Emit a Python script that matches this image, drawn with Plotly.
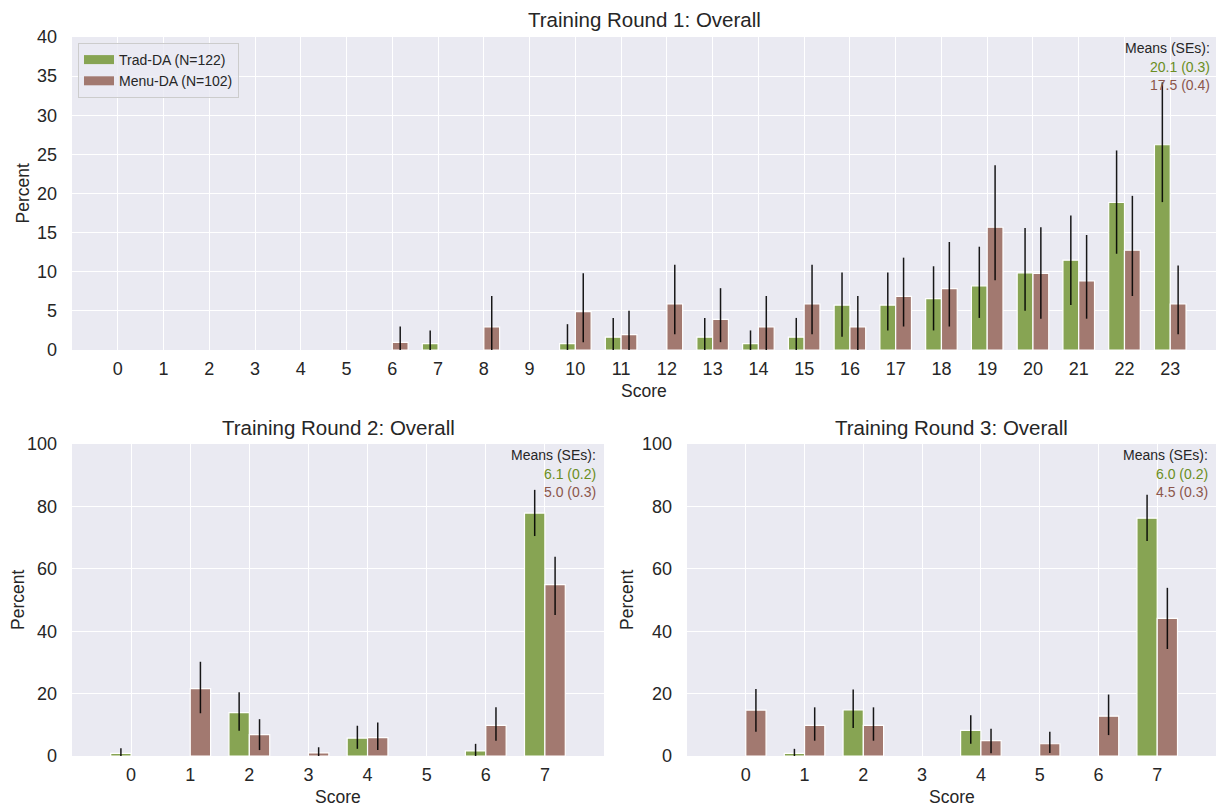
import plotly.graph_objects as go

# ---------------- data ----------------
scores1 = list(range(24))
trad1 = [0, 0, 0, 0, 0, 0, 0, 0.82, 0, 0, 0.82, 1.64, 0, 1.64, 0.82, 1.64,
         5.74, 5.74, 6.56, 8.20, 9.84, 11.48, 18.85, 26.23]
trad1_lo = [None]*7 + [0, None, None, 0, 0, None, 0, 0, 0, 1.7, 2.5, 2.5, 4.1, 5.0, 5.75, 12.3, 18.9]
trad1_hi = [None]*7 + [2.5, None, None, 3.3, 4.1, None, 4.1, 2.5, 4.1, 9.9, 9.9, 10.7, 13.2, 15.6, 17.2, 25.5, 34.2]
menu1 = [0, 0, 0, 0, 0, 0, 0.98, 0, 2.94, 0, 4.90, 1.96, 5.88, 3.92, 2.94, 5.88,
         2.94, 6.86, 7.84, 15.69, 9.80, 8.82, 12.75, 5.88]
menu1_lo = [None]*6 + [0, None, 0, None, 1.0, 0, 2.0, 1.0, 0, 2.0, 0, 3.0, 3.0, 8.9, 4.0, 4.0, 6.9, 2.0]
menu1_hi = [None]*6 + [3.0, None, 6.9, None, 9.8, 5.0, 10.9, 7.9, 6.9, 10.9, 6.9, 11.8, 13.8, 23.6, 15.7, 14.7, 19.7, 10.8]

scores23 = list(range(8))
trad2 = [0.82, 0, 13.93, 0, 5.74, 0, 1.64, 77.87]
trad2_lo = [0, None, 8.1, None, 2.3, None, 0, 70.5]
trad2_hi = [2.5, None, 20.4, None, 9.7, None, 3.9, 85.3]
menu2 = [0, 21.57, 6.86, 0.98, 5.88, 0, 9.80, 54.90]
menu2_lo = [None, 13.7, 1.9, 0, 1.9, None, 4.9, 45.2]
menu2_hi = [None, 30.2, 11.8, 2.8, 10.7, None, 15.6, 63.9]

trad3 = [0, 0.82, 14.75, 0, 8.20, 0, 0, 76.23]
trad3_lo = [None, 0, 9.0, None, 3.9, None, None, 68.9]
trad3_hi = [None, 2.3, 21.3, None, 13.1, None, None, 83.7]
menu3 = [14.71, 9.80, 9.80, 0, 4.90, 3.92, 12.75, 44.12]
menu3_lo = [7.8, 4.9, 4.9, None, 0.9, 1.0, 6.7, 34.3]
menu3_hi = [21.5, 15.6, 15.6, None, 8.7, 7.8, 19.7, 53.9]

titles = ["Training Round 1: Overall", "Training Round 2: Overall", "Training Round 3: Overall"]
means_trad = ["20.1 (0.3)", "6.1 (0.2)", "6.0 (0.2)"]
means_menu = ["17.5 (0.4)", "5.0 (0.3)", "4.5 (0.3)"]
names = ["Trad-DA (N=122)", "Menu-DA (N=102)"]

# ---------------- style ----------------
OFF = 8                      # page body margin of the browser
W, H = 1225 - OFF, 810 - OFF
FONT = "Liberation Sans, Arial, sans-serif"
TXT = "#262626"
BG = "#eaeaf2"
GREEN_FILL = "#87a453"
BROWN_FILL = "#a27970"
GREEN_TXT = "#6b8e23"
BROWN_TXT = "#8c564b"

def px_x(p):
    return (p - OFF) / W

def px_y(p):
    return 1 - (p - OFF) / H

panels = [
    dict(x0=72, x1=1216, y0=37, y1=350, xr=[-1, 24], yr=[0, 40], dy=5, ytx=22,
         scores=scores1, t=trad1, tl=trad1_lo, th=trad1_hi, m=menu1, ml=menu1_lo, mh=menu1_hi),
    dict(x0=72, x1=604, y0=444, y1=756, xr=[-1, 8], yr=[0, 100], dy=20, ytx=18,
         scores=scores23, t=trad2, tl=trad2_lo, th=trad2_hi, m=menu2, ml=menu2_lo, mh=menu2_hi),
    dict(x0=687, x1=1216, y0=444, y1=756, xr=[-1, 8], yr=[0, 100], dy=20, ytx=627,
         scores=scores23, t=trad3, tl=trad3_lo, th=trad3_hi, m=menu3, ml=menu3_lo, mh=menu3_hi),
]

fig = go.Figure()
annotations = []
layout_axes = {}

def make_trace(scores, vals, lo, hi, name, color, ax, og):
    xs, ys, ep, em = [], [], [], []
    for s, v, l, h in zip(scores, vals, lo, hi):
        if v and v > 0:
            xs.append(s)
            ys.append(v)
            ep.append((h - v) if h is not None else 0)
            em.append((v - l) if l is not None else 0)
    return go.Bar(
        x=xs, y=ys, name=name, xaxis="x" + ax, yaxis="y" + ax,
        marker=dict(color=color, line=dict(color="white", width=1.2)),
        error_y=dict(type="data", array=ep, arrayminus=em, symmetric=False,
                     color="rgba(0,0,0,0.9)", thickness=1.5, width=0),
        showlegend=False, offsetgroup=og,
    )

for i, p in enumerate(panels):
    ax = "" if i == 0 else str(i + 1)
    fig.add_trace(make_trace(p["scores"], p["t"], p["tl"], p["th"], names[0], GREEN_FILL, ax, "trad"))
    fig.add_trace(make_trace(p["scores"], p["m"], p["ml"], p["mh"], names[1], BROWN_FILL, ax, "menu"))

    xkey = "xaxis" + ax
    ykey = "yaxis" + ax
    layout_axes[xkey] = dict(
        domain=[px_x(p["x0"]), px_x(p["x1"])], anchor="y" + ax, range=p["xr"],
        tickmode="array", tickvals=p["scores"], ticktext=[str(s) for s in p["scores"]],
        showgrid=True, gridcolor="white", gridwidth=1.3, zeroline=False, showline=False,
        ticks="", ticklabelstandoff=6, tickfont=dict(size=18, color=TXT, family=FONT),
    )
    layout_axes[ykey] = dict(
        domain=[px_y(p["y1"]), px_y(p["y0"])], anchor="x" + ax, range=p["yr"],
        tickmode="linear", tick0=0, dtick=p["dy"],
        showgrid=True, gridcolor="white", gridwidth=1.3, zeroline=False, showline=False,
        ticks="", ticklabelstandoff=14, tickfont=dict(size=18, color=TXT, family=FONT),
    )
    cx = (p["x0"] + p["x1"]) / 2
    annotations.append(dict(text=titles[i], x=px_x(cx), y=px_y(p["y0"] - 17), xref="paper", yref="paper",
                            showarrow=False, xanchor="center", yanchor="middle",
                            font=dict(size=20.5, color=TXT, family=FONT)))
    annotations.append(dict(text="Score", x=px_x(cx), y=px_y(p["y1"] + 41), xref="paper", yref="paper",
                            showarrow=False, xanchor="center", yanchor="middle",
                            font=dict(size=17.5, color=TXT, family=FONT)))
    annotations.append(dict(text="Percent", x=px_x(p["ytx"]), y=px_y((p["y0"] + p["y1"]) / 2), xref="paper", yref="paper",
                            showarrow=False, xanchor="center", yanchor="middle", textangle=-90,
                            font=dict(size=17.5, color=TXT, family=FONT)))
    rx = p["x1"] - (4 if i == 0 else 6)
    for k, (txt, col) in enumerate([("Means (SEs):", TXT), (means_trad[i], GREEN_TXT), (means_menu[i], BROWN_TXT)]):
        annotations.append(dict(text=txt, x=px_x(rx), y=px_y(p["y0"] + 11 + 18.5 * k), xref="paper", yref="paper",
                                showarrow=False, xanchor="right", yanchor="middle",
                                font=dict(size=14, color=col, family=FONT)))

# legend entries (wide colour patches like the reference)
for name, col in zip(names, [GREEN_FILL, BROWN_FILL]):
    fig.add_trace(go.Scatter(x=[None], y=[None], mode="lines", name=name,
                             line=dict(color=col, width=9), showlegend=True))

fig.update_layout(
    width=W, height=H,
    margin=dict(l=0, r=0, t=0, b=0, autoexpand=False),
    paper_bgcolor="white", plot_bgcolor=BG,
    barmode="group", bargap=0.31, bargroupgap=0,
    font=dict(family=FONT, color=TXT),
    annotations=annotations,
    legend=dict(x=px_x(78), y=px_y(43), xanchor="left", yanchor="top",
                bgcolor="rgba(234,234,242,0.8)", bordercolor="#cccccc", borderwidth=1,
                font=dict(size=14, color=TXT, family=FONT), tracegroupgap=0,
                itemwidth=30),
    **layout_axes,
)

fig.write_html("out.html")
